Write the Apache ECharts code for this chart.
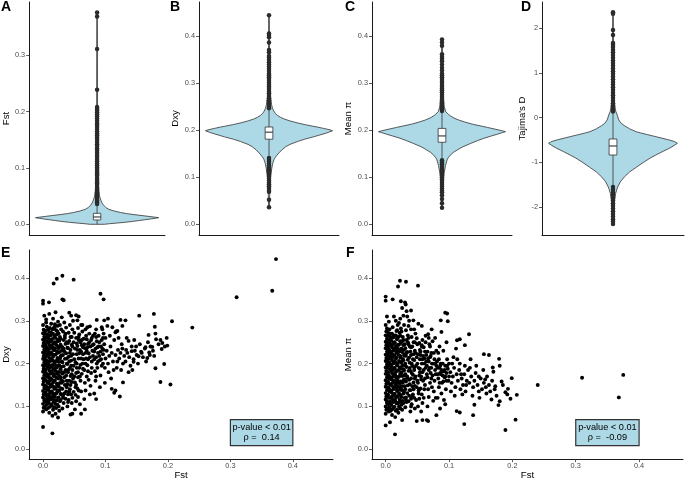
<!DOCTYPE html>
<html><head><meta charset="utf-8">
<script src="https://cdn.jsdelivr.net/npm/echarts@6/dist/echarts.min.js"></script>
<style>html,body{margin:0;padding:0;background:#fff}#c{width:685px;height:481px}</style>
</head><body><div id="c"></div>
<script>
// ---------- DATA ----------
const panelLetters = ['A','B','C','D','E','F'];
const violinTitles = ['Fst','Dxy','Mean π',"Tajima's D"];
const scatterXTitle = 'Fst';
const scatterYTitles = ['Dxy','Mean π'];
const ticksA = [0, 0.1, 0.2, 0.3];
const ticksBC = [0, 0.1, 0.2, 0.3, 0.4];
const ticksD = [-2, -1, 0, 1, 2];
const ticksScatter = [0, 0.1, 0.2, 0.3, 0.4];

// violin profiles: [value, relative half-width]
const violinA = [[0,0.12],[0.001,0.2],[0.002,0.3],[0.0035,0.45],[0.005,0.57],[0.0065,0.67],[0.008,0.77],[0.0095,0.87],[0.0107,0.94],[0.0117,1.0],[0.0128,0.93],[0.014,0.84],[0.0155,0.73],[0.0172,0.6],[0.019,0.48],[0.021,0.38],[0.0235,0.28],[0.0266,0.19],[0.03,0.14],[0.034,0.105],[0.038,0.08],[0.043,0.06],[0.05,0.04],[0.06,0.028],[0.08,0.016],[0.15,0.008],[0.376,0.005]];
const violinB = [[0.036,0.006],[0.07,0.012],[0.1,0.025],[0.12,0.045],[0.13,0.06],[0.138,0.08],[0.1425,0.1],[0.147,0.125],[0.152,0.158],[0.158,0.2],[0.165,0.263],[0.17,0.33],[0.176,0.447],[0.181,0.56],[0.186,0.7],[0.19,0.8],[0.194,0.9],[0.197,0.96],[0.199,1.0],[0.201,0.96],[0.204,0.86],[0.207,0.76],[0.209,0.68],[0.212,0.57],[0.216,0.44],[0.22,0.33],[0.224,0.24],[0.2277,0.18],[0.232,0.13],[0.236,0.1],[0.241,0.075],[0.247,0.055],[0.255,0.04],[0.27,0.025],[0.3,0.015],[0.35,0.009],[0.445,0.005]];
const violinC = [[0.035,0.006],[0.07,0.012],[0.1,0.025],[0.11,0.035],[0.125,0.055],[0.137,0.08],[0.142,0.1],[0.147,0.13],[0.153,0.18],[0.159,0.25],[0.165,0.33],[0.172,0.45],[0.178,0.56],[0.183,0.66],[0.188,0.78],[0.192,0.88],[0.195,0.95],[0.197,1.0],[0.199,0.95],[0.202,0.85],[0.206,0.72],[0.209,0.62],[0.213,0.48],[0.218,0.35],[0.222,0.26],[0.226,0.19],[0.23,0.14],[0.234,0.1],[0.2396,0.06],[0.25,0.035],[0.27,0.022],[0.3,0.013],[0.393,0.005]];
const violinD = [[-2.375,0.006],[-2.1,0.012],[-1.85,0.025],[-1.7,0.04],[-1.6,0.06],[-1.526,0.08],[-1.42,0.12],[-1.318,0.18],[-1.21,0.26],[-1.11,0.36],[-1.0,0.47],[-0.9,0.58],[-0.834,0.666],[-0.75,0.78],[-0.68,0.88],[-0.62,0.95],[-0.572,1.0],[-0.53,0.95],[-0.49,0.85],[-0.45,0.74],[-0.424,0.666],[-0.38,0.54],[-0.34,0.43],[-0.313,0.36],[-0.25,0.26],[-0.18,0.18],[-0.126,0.128],[-0.05,0.09],[0.06,0.066],[0.134,0.045],[0.2,0.035],[0.35,0.022],[0.8,0.012],[1.5,0.008],[2.355,0.005]];

// boxes: [q1, median, q3, lowerWhisker, upperWhisker]
const boxA = [0.0077, 0.013, 0.0195, 0, 0.037];
const boxB = [0.181, 0.196, 0.207, 0.142, 0.246];
const boxC = [0.1745, 0.188, 0.204, 0.137, 0.24];
const boxD = [-0.834, -0.632, -0.476, -1.54, 0.134];

// outliers
const outliersA = [0.036,0.039,0.042,0.045,0.048,0.051,0.054,0.057,0.06,0.063,0.066,0.07,0.073,0.076,0.079,0.082,0.086,0.089,0.092,0.095,0.098,0.101,0.105,0.108,0.112,0.116,0.12,0.123,0.127,0.131,0.135,0.139,0.142,0.146,0.15,0.154,0.158,0.161,0.165,0.169,0.173,0.177,0.18,0.184,0.188,0.192,0.195,0.199,0.202,0.205,0.208,0.239,0.311,0.369,0.376];
const outliersB = [0.247,0.25,0.254,0.257,0.261,0.264,0.268,0.271,0.275,0.279,0.282,0.286,0.29,0.293,0.297,0.301,0.305,0.309,0.313,0.317,0.321,0.326,0.331,0.336,0.34,0.345,0.35,0.355,0.358,0.366,0.371,0.387,0.398,0.403,0.406,0.445,
  0.141,0.137,0.133,0.129,0.125,0.121,0.117,0.113,0.109,0.105,0.101,0.097,0.093,0.089,0.085,0.081,0.077,0.073,0.069,0.052,0.036];
const outliersC = [0.241,0.245,0.249,0.253,0.257,0.261,0.265,0.269,0.273,0.277,0.281,0.285,0.289,0.293,0.297,0.301,0.305,0.309,0.313,0.317,0.321,0.327,0.333,0.34,0.347,0.352,0.356,0.362,0.38,0.387,0.393,
  0.136,0.132,0.128,0.124,0.12,0.116,0.112,0.108,0.104,0.1,0.096,0.092,0.088,0.084,0.08,0.076,0.072,0.068,0.062,0.054,0.045,0.035];
const outliersD = [0.14,0.2,0.26,0.32,0.38,0.44,0.5,0.56,0.62,0.68,0.74,0.8,0.86,0.92,0.98,1.04,1.1,1.16,1.22,1.28,1.34,1.4,1.46,1.52,1.58,1.63,1.67,1.85,1.96,2.32,2.355,
  -1.55,-1.61,-1.67,-1.73,-1.79,-1.85,-1.91,-1.97,-2.03,-2.09,-2.15,-2.21,-2.27,-2.32,-2.375];

// scatter E: [Fst, Dxy]
const fstDxy = [
[0,0.088],[0.001,0.097],[0,0.106],[0.002,0.113],[0,0.121],[0.001,0.128],[0,0.136],[0.002,0.143],[0,0.151],[0.001,0.158],[0,0.166],[0.002,0.173],[0,0.181],[0.001,0.188],[0,0.196],[0.002,0.203],[0,0.211],[0.001,0.218],[0,0.226],[0.002,0.233],[0,0.241],[0.001,0.248],[0,0.256],[0.002,0.263],[0,0.271],[0.001,0.279],[0,0.29],[0.002,0.312],
[0.005,0.093],[0.006,0.104],[0.004,0.111],[0.007,0.118],[0.005,0.125],[0.004,0.133],[0.006,0.14],[0.005,0.147],[0.007,0.155],[0.004,0.162],[0.006,0.17],[0.005,0.177],[0.004,0.185],[0.007,0.192],[0.005,0.2],[0.006,0.207],[0.004,0.215],[0.007,0.222],[0.005,0.23],[0.006,0.237],[0.004,0.245],[0.006,0.252],[0.005,0.26],[0.007,0.268],[0.004,0.276],[0.006,0.286],[0.005,0.296],
[0.01,0.085],[0.011,0.099],[0.009,0.108],[0.012,0.116],[0.01,0.123],[0.011,0.131],[0.009,0.138],[0.012,0.146],[0.01,0.153],[0.011,0.161],[0.009,0.168],[0.012,0.176],[0.01,0.183],[0.011,0.191],[0.009,0.198],[0.012,0.206],[0.01,0.213],[0.011,0.221],[0.009,0.228],[0.012,0.236],[0.01,0.243],[0.011,0.251],[0.009,0.258],[0.012,0.266],[0.01,0.274],[0.011,0.283],[0.013,0.293],[0.01,0.316],
[0.015,0.078],[0.016,0.092],[0.014,0.102],[0.017,0.11],[0.015,0.118],[0.016,0.126],[0.014,0.133],[0.018,0.141],[0.015,0.148],[0.016,0.156],[0.014,0.163],[0.017,0.171],[0.015,0.178],[0.016,0.186],[0.014,0.193],[0.018,0.201],[0.015,0.208],[0.016,0.216],[0.014,0.223],[0.017,0.231],[0.015,0.238],[0.016,0.246],[0.014,0.253],[0.018,0.261],[0.016,0.27],[0.017,0.282],[0.019,0.292],[0.016,0.305],
[0.02,0.083],[0.021,0.096],[0.02,0.106],[0.022,0.114],[0.019,0.122],[0.021,0.13],[0.023,0.138],[0.02,0.145],[0.022,0.153],[0.019,0.16],[0.021,0.168],[0.023,0.176],[0.02,0.183],[0.022,0.191],[0.019,0.198],[0.021,0.206],[0.023,0.213],[0.02,0.221],[0.022,0.229],[0.019,0.236],[0.021,0.244],[0.023,0.252],[0.02,0.26],[0.022,0.268],[0.021,0.278],[0.023,0.288],[0.02,0.32],[0.024,0.298],
[0.026,0.09],[0.025,0.1],[0.027,0.112],[0.025,0.121],[0.028,0.129],[0.026,0.137],[0.025,0.147],[0.027,0.155],[0.029,0.162],[0.026,0.171],[0.025,0.18],[0.028,0.187],[0.026,0.196],[0.025,0.204],[0.027,0.212],[0.029,0.219],[0.026,0.227],[0.025,0.236],[0.028,0.244],[0.026,0.253],[0.027,0.262],[0.025,0.27],[0.029,0.28],[0.027,0.29],[0.03,0.308],
[0.031,0.095],[0.033,0.108],[0.032,0.12],[0.034,0.13],[0.031,0.141],[0.035,0.15],[0.032,0.159],[0.034,0.168],[0.031,0.177],[0.036,0.185],[0.033,0.194],[0.031,0.203],[0.035,0.211],[0.032,0.22],[0.034,0.229],[0.031,0.238],[0.036,0.246],[0.033,0.255],[0.035,0.265],[0.032,0.275],[0.037,0.284],[0.034,0.296],
[0.039,0.1],[0.041,0.115],[0.04,0.128],[0.043,0.14],[0.039,0.152],[0.042,0.16],[0.044,0.171],[0.04,0.18],[0.043,0.19],[0.039,0.199],[0.045,0.207],[0.041,0.216],[0.043,0.225],[0.04,0.236],[0.046,0.244],[0.042,0.253],[0.044,0.262],[0.041,0.272],[0.047,0.28],[0.043,0.29],[0.048,0.3],[0.045,0.312],[0.047,0.12],[0.049,0.134],[0.048,0.165],[0.049,0.195],[0.048,0.222],[0.049,0.25],[0.047,0.185],[0.046,0.108],
[0.051,0.093],[0.053,0.112],[0.052,0.127],[0.055,0.142],[0.051,0.156],[0.056,0.168],[0.053,0.178],[0.058,0.19],[0.052,0.203],[0.057,0.212],[0.054,0.222],[0.059,0.232],[0.055,0.241],[0.06,0.25],[0.053,0.26],[0.058,0.268],[0.056,0.283],[0.061,0.29],[0.057,0.31],[0.062,0.176],[0.063,0.2],[0.061,0.135],[0.064,0.222],[0.062,0.243],[0.065,0.258],[0.06,0.16],[0.056,0.122],[0.064,0.188],[0.063,0.275],[0.059,0.105],
[0.066,0.117],[0.068,0.137],[0.067,0.155],[0.07,0.17],[0.066,0.185],[0.071,0.196],[0.069,0.212],[0.073,0.224],[0.067,0.236],[0.072,0.246],[0.07,0.257],[0.074,0.27],[0.068,0.28],[0.075,0.287],[0.076,0.148],[0.077,0.178],[0.078,0.205],[0.079,0.23],[0.077,0.255],[0.08,0.265],[0.075,0.128],[0.078,0.19],[0.073,0.162],[0.08,0.218],[0.079,0.243],
[0.082,0.13],[0.084,0.16],[0.083,0.182],[0.086,0.2],[0.085,0.215],[0.088,0.225],[0.087,0.238],[0.09,0.25],[0.089,0.265],[0.092,0.172],[0.094,0.195],[0.093,0.21],[0.096,0.222],[0.095,0.235],[0.098,0.245],[0.097,0.27],[0.099,0.19],[0.091,0.145],[0.085,0.28],[0.088,0.205],[0.092,0.228],[0.096,0.2],[0.1,0.212],[0.1,0.26],[0.094,0.285],[0.081,0.245],[0.083,0.27],[0.099,0.155],
[0.102,0.23],[0.104,0.2],[0.106,0.218],[0.108,0.24],[0.11,0.225],[0.112,0.205],[0.114,0.255],[0.116,0.22],[0.118,0.19],[0.12,0.232],[0.122,0.212],[0.124,0.225],[0.126,0.245],[0.128,0.2],[0.13,0.218],[0.105,0.18],[0.109,0.165],[0.113,0.185],[0.117,0.275],[0.121,0.26],[0.125,0.185],[0.119,0.205],[0.107,0.265],[0.103,0.288],[0.111,0.285],[0.127,0.235],
[0.132,0.205],[0.135,0.225],[0.138,0.215],[0.14,0.195],[0.142,0.24],[0.145,0.21],[0.147,0.23],[0.15,0.22],[0.152,0.2],[0.155,0.245],[0.158,0.225],[0.16,0.215],[0.163,0.235],[0.165,0.205],[0.168,0.25],[0.17,0.226],[0.172,0.24],[0.176,0.23],[0.185,0.245],[0.188,0.255],[0.195,0.24],[0.137,0.18],[0.143,0.185],[0.134,0.26],[0.146,0.255],
[0.003,0.1],[0.002,0.117],[0.003,0.132],[0.003,0.149],[0.002,0.164],[0.003,0.18],[0.003,0.195],[0.002,0.21],[0.003,0.224],[0.003,0.24],[0.002,0.255],[0.003,0.27],
[0.008,0.096],[0.008,0.112],[0.009,0.128],[0.008,0.143],[0.007,0.158],[0.008,0.174],[0.009,0.189],[0.008,0.204],[0.007,0.219],[0.008,0.234],[0.009,0.249],[0.008,0.264],[0.008,0.279],
[0.013,0.105],[0.013,0.12],[0.014,0.135],[0.013,0.15],[0.012,0.166],[0.013,0.181],[0.014,0.196],[0.013,0.211],[0.012,0.226],[0.013,0.241],[0.014,0.257],[0.013,0.272],
[0.018,0.098],[0.018,0.114],[0.019,0.129],[0.018,0.145],[0.017,0.16],[0.018,0.175],[0.019,0.19],[0.018,0.205],[0.017,0.22],[0.018,0.235],[0.019,0.25],[0.018,0.265],[0.018,0.285],
[0.023,0.104],[0.024,0.12],[0.023,0.134],[0.024,0.15],[0.024,0.165],[0.023,0.18],[0.024,0.195],[0.024,0.21],[0.023,0.225],[0.024,0.24],[0.024,0.256],[0.023,0.275],
[0.028,0.115],[0.029,0.142],[0.028,0.168],[0.029,0.192],[0.028,0.216],[0.029,0.24],[0.028,0.258],[0.03,0.128],[0.03,0.155],[0.03,0.18],[0.03,0.205],[0.03,0.23],
[0.036,0.118],[0.038,0.145],[0.037,0.172],[0.038,0.2],[0.037,0.224],[0.038,0.25],[0.036,0.27],[0.038,0.16],[0.037,0.135],[0.038,0.212],[0.039,0.237],
[0.044,0.15],[0.046,0.175],[0.045,0.195],[0.044,0.232],[0.046,0.262],[0.052,0.145],[0.054,0.19],[0.055,0.232],[0.057,0.255],[0.059,0.17],[0.061,0.212],[0.064,0.238],
[0.068,0.2],[0.07,0.23],[0.072,0.182],[0.075,0.215],[0.082,0.21],[0.084,0.235],[0.087,0.19],[0.09,0.218],[0.093,0.24],[0.096,0.26],[0.069,0.265],[0.076,0.24],[0.085,0.17],
[0.032,0.125],[0.034,0.18],[0.033,0.235],[0.035,0.26],[0.04,0.11],[0.042,0.134],[0.041,0.186],[0.042,0.205],[0.04,0.248],[0.045,0.128],[0.046,0.157],[0.045,0.218],[0.047,0.24],[0.05,0.17],[0.05,0.21],[0.051,0.235],[0.05,0.272],[0.053,0.15],[0.054,0.2],[0.054,0.247],[0.057,0.137],[0.056,0.18],[0.058,0.224],[0.057,0.262],[0.06,0.197],[0.061,0.228],[0.062,0.255],[0.065,0.21],[0.066,0.245],[0.068,0.225],[0.071,0.238],[0.072,0.21],[0.074,0.25],[0.078,0.26],[0.082,0.228],[0.086,0.252],[0.089,0.24],[0.091,0.208],[0.094,0.255],[0.097,0.232],
[0.373,0.444],[0.367,0.37],[0.31,0.355],[0.239,0.284],[0.2065,0.299],[0.1775,0.316],[0.154,0.312],[0.194,0.199],[0.188,0.157],[0.204,0.151],[0.18,0.189],[0.191,0.248],[0.198,0.26],[0.199,0.242],[0.19,0.234],[0.181,0.257],[0.179,0.286],[0.18,0.27],[0.169,0.267],[0.164,0.238],[0.175,0.239],[0.178,0.218],[0.171,0.22],[0.167,0.213],[0.157,0.228],[0.153,0.217],[0.149,0.24],[0.145,0.204],[0.142,0.229],[0.137,0.253],[0.133,0.232],[0.128,0.156],[0.123,0.123],[0.116,0.137],[0.114,0.132],[0.11,0.141],[0.132,0.301],[0.124,0.302],[0.127,0.288],[0.119,0.276],[0.116,0.273],[0.104,0.305],[0.098,0.301],[0.092,0.363],[0.097,0.35],[0.086,0.302],[0.095,0.28],[0.085,0.262],[0.071,0.285],[0.063,0.29],[0.055,0.301],[0.049,0.396],[0.031,0.405],[0.022,0.398],[0.017,0.387],[0.031,0.35],[0.033,0.348],[0,0.347],[0,0.34],[0.0095,0.343],[0.015,0.28],[0.042,0.319],[0.053,0.313],[0.005,0.303],[0,0.052],[0.015,0.037],[0.024,0.074],[0.044,0.081],[0.047,0.083],[0.061,0.083],[0.067,0.093],[0.085,0.117]
];

// scatter F: [Fst, Mean pi]
const fstPi = [
[0,0.083],[0.001,0.092],[0,0.1],[0.002,0.108],[0,0.116],[0.001,0.123],[0,0.131],[0.002,0.138],[0,0.146],[0.001,0.153],[0,0.161],[0.002,0.168],[0,0.176],[0.001,0.183],[0,0.191],[0.002,0.198],[0,0.206],[0.001,0.213],[0,0.221],[0.002,0.228],[0,0.236],[0.001,0.243],[0,0.251],[0.002,0.258],[0,0.266],[0.001,0.275],[0,0.29],[0.002,0.31],
[0.005,0.088],[0.006,0.097],[0.004,0.105],[0.007,0.112],[0.005,0.12],[0.004,0.127],[0.006,0.135],[0.005,0.142],[0.007,0.15],[0.004,0.157],[0.006,0.165],[0.005,0.172],[0.004,0.18],[0.007,0.187],[0.005,0.195],[0.006,0.202],[0.004,0.21],[0.007,0.217],[0.005,0.225],[0.006,0.232],[0.004,0.24],[0.006,0.247],[0.005,0.255],[0.007,0.263],[0.004,0.272],[0.006,0.28],[0.005,0.298],
[0.01,0.08],[0.011,0.094],[0.009,0.103],[0.012,0.11],[0.01,0.118],[0.011,0.125],[0.009,0.133],[0.012,0.14],[0.01,0.148],[0.011,0.155],[0.009,0.163],[0.012,0.17],[0.01,0.178],[0.011,0.185],[0.009,0.193],[0.012,0.2],[0.01,0.208],[0.011,0.215],[0.009,0.223],[0.012,0.23],[0.01,0.238],[0.011,0.245],[0.009,0.253],[0.012,0.261],[0.01,0.27],[0.011,0.285],[0.013,0.31],
[0.015,0.075],[0.016,0.09],[0.014,0.099],[0.017,0.107],[0.015,0.114],[0.016,0.121],[0.014,0.129],[0.018,0.136],[0.015,0.144],[0.016,0.151],[0.014,0.159],[0.017,0.166],[0.015,0.174],[0.016,0.181],[0.014,0.189],[0.018,0.196],[0.015,0.204],[0.016,0.211],[0.014,0.219],[0.017,0.226],[0.015,0.234],[0.016,0.241],[0.014,0.249],[0.018,0.257],[0.016,0.266],[0.017,0.276],[0.019,0.29],[0.016,0.3],
[0.02,0.085],[0.021,0.1],[0.02,0.108],[0.022,0.116],[0.019,0.124],[0.021,0.131],[0.023,0.139],[0.02,0.146],[0.022,0.154],[0.019,0.161],[0.021,0.169],[0.023,0.176],[0.02,0.184],[0.022,0.191],[0.019,0.199],[0.021,0.206],[0.023,0.214],[0.02,0.221],[0.022,0.229],[0.019,0.236],[0.021,0.244],[0.023,0.252],[0.02,0.262],[0.022,0.272],[0.024,0.282],[0.021,0.295],[0.023,0.305],
[0.026,0.092],[0.025,0.104],[0.027,0.113],[0.025,0.122],[0.028,0.13],[0.026,0.138],[0.025,0.147],[0.027,0.155],[0.029,0.163],[0.026,0.171],[0.025,0.179],[0.028,0.187],[0.026,0.195],[0.025,0.203],[0.027,0.211],[0.029,0.219],[0.026,0.227],[0.025,0.235],[0.028,0.243],[0.026,0.252],[0.027,0.262],[0.025,0.275],[0.029,0.29],[0.028,0.312],
[0.031,0.098],[0.033,0.11],[0.032,0.121],[0.034,0.131],[0.031,0.14],[0.035,0.149],[0.032,0.158],[0.034,0.166],[0.031,0.175],[0.036,0.183],[0.033,0.192],[0.031,0.2],[0.035,0.209],[0.032,0.218],[0.034,0.227],[0.031,0.236],[0.036,0.245],[0.033,0.255],[0.035,0.266],[0.032,0.278],[0.037,0.3],[0.034,0.31],
[0.039,0.088],[0.041,0.105],[0.04,0.118],[0.043,0.128],[0.039,0.138],[0.042,0.147],[0.044,0.156],[0.04,0.165],[0.043,0.174],[0.039,0.183],[0.045,0.191],[0.041,0.2],[0.043,0.21],[0.04,0.22],[0.046,0.23],[0.042,0.24],[0.044,0.25],[0.041,0.262],[0.047,0.27],[0.048,0.115],[0.049,0.145],[0.047,0.17],[0.048,0.195],[0.049,0.215],[0.046,0.095],[0.045,0.28],
[0.051,0.1],[0.053,0.118],[0.052,0.13],[0.055,0.142],[0.051,0.155],[0.056,0.163],[0.053,0.172],[0.058,0.18],[0.052,0.19],[0.057,0.2],[0.054,0.21],[0.059,0.218],[0.055,0.228],[0.06,0.238],[0.053,0.248],[0.058,0.255],[0.061,0.14],[0.062,0.165],[0.063,0.19],[0.064,0.205],[0.06,0.12],[0.065,0.175],[0.062,0.228],[0.056,0.088],[0.063,0.25],[0.058,0.108],
[0.066,0.1],[0.068,0.122],[0.067,0.14],[0.07,0.155],[0.066,0.168],[0.071,0.178],[0.069,0.19],[0.073,0.2],[0.067,0.212],[0.072,0.225],[0.07,0.24],[0.074,0.252],[0.076,0.135],[0.077,0.16],[0.078,0.185],[0.079,0.175],[0.077,0.21],[0.08,0.195],[0.075,0.113],[0.073,0.145],[0.08,0.23],[0.079,0.12],[0.068,0.26],
[0.082,0.12],[0.084,0.145],[0.083,0.165],[0.086,0.178],[0.085,0.19],[0.088,0.185],[0.087,0.2],[0.09,0.172],[0.089,0.155],[0.092,0.182],[0.094,0.195],[0.093,0.168],[0.096,0.178],[0.095,0.14],[0.098,0.188],[0.097,0.21],[0.099,0.16],[0.091,0.23],[0.085,0.24],[0.088,0.13],[0.092,0.115],[0.096,0.25],[0.1,0.17],[0.1,0.2],[0.094,0.105],[0.081,0.205],[0.083,0.225],
[0.102,0.18],[0.104,0.155],[0.106,0.17],[0.108,0.19],[0.11,0.145],[0.112,0.175],[0.114,0.16],[0.116,0.185],[0.118,0.14],[0.12,0.165],[0.122,0.15],[0.124,0.175],[0.126,0.135],[0.128,0.16],[0.13,0.185],[0.105,0.2],[0.109,0.125],[0.113,0.21],[0.117,0.2],[0.121,0.128],[0.125,0.195],[0.119,0.175],[0.107,0.215],[0.103,0.135],[0.111,0.235],[0.127,0.15],
[0.132,0.155],[0.135,0.17],[0.138,0.145],[0.14,0.16],[0.142,0.178],[0.145,0.15],[0.147,0.135],[0.15,0.165],[0.152,0.14],[0.155,0.155],[0.158,0.145],[0.16,0.17],[0.163,0.15],[0.165,0.135],[0.168,0.16],[0.133,0.19],[0.137,0.125],[0.143,0.195],[0.134,0.21],[0.148,0.12],[0.154,0.185],[0.172,0.14],[0.175,0.125],[0.185,0.15],[0.192,0.128],
[0.003,0.095],[0.002,0.112],[0.003,0.127],[0.003,0.144],[0.002,0.159],[0.003,0.175],[0.003,0.19],[0.002,0.205],[0.003,0.219],[0.003,0.235],[0.002,0.25],[0.003,0.265],[0.002,0.282],
[0.008,0.09],[0.008,0.106],[0.009,0.122],[0.008,0.137],[0.007,0.152],[0.008,0.168],[0.009,0.183],[0.008,0.198],[0.007,0.213],[0.008,0.228],[0.009,0.243],[0.008,0.258],[0.008,0.27],
[0.013,0.098],[0.013,0.114],[0.014,0.129],[0.013,0.144],[0.012,0.16],[0.013,0.175],[0.014,0.19],[0.013,0.205],[0.012,0.22],[0.013,0.235],[0.014,0.25],[0.013,0.266],
[0.018,0.092],[0.018,0.108],[0.019,0.123],[0.018,0.139],[0.017,0.154],[0.018,0.169],[0.019,0.184],[0.018,0.199],[0.017,0.214],[0.018,0.229],[0.019,0.244],[0.018,0.26],[0.018,0.278],
[0.023,0.095],[0.024,0.112],[0.023,0.127],[0.024,0.143],[0.024,0.158],[0.023,0.173],[0.024,0.188],[0.024,0.203],[0.023,0.218],[0.024,0.233],[0.024,0.248],[0.023,0.265],
[0.028,0.108],[0.029,0.134],[0.028,0.16],[0.029,0.184],[0.028,0.208],[0.029,0.232],[0.028,0.255],[0.03,0.12],[0.03,0.147],[0.03,0.172],[0.03,0.196],[0.03,0.222],[0.03,0.245],
[0.036,0.112],[0.038,0.138],[0.037,0.162],[0.038,0.19],[0.037,0.214],[0.038,0.24],[0.036,0.26],[0.038,0.152],[0.037,0.125],[0.038,0.202],[0.039,0.228],
[0.044,0.14],[0.046,0.165],[0.045,0.185],[0.044,0.222],[0.046,0.25],[0.052,0.137],[0.054,0.18],[0.055,0.22],[0.057,0.24],[0.059,0.16],[0.061,0.2],[0.064,0.22],
[0.068,0.185],[0.07,0.215],[0.072,0.165],[0.075,0.2],[0.082,0.19],[0.084,0.21],[0.087,0.175],[0.09,0.2],[0.093,0.185],[0.096,0.16],[0.069,0.245],[0.076,0.225],[0.085,0.155],
[0.032,0.115],[0.034,0.17],[0.033,0.225],[0.035,0.25],[0.04,0.1],[0.042,0.125],[0.041,0.178],[0.042,0.195],[0.04,0.238],[0.045,0.12],[0.046,0.148],[0.045,0.208],[0.047,0.225],[0.05,0.16],[0.05,0.2],[0.051,0.222],[0.05,0.245],[0.053,0.14],[0.054,0.188],[0.054,0.232],[0.057,0.128],[0.056,0.17],[0.058,0.21],[0.057,0.243],[0.06,0.185],[0.061,0.212],[0.062,0.15],[0.065,0.195],[0.066,0.228],[0.068,0.205],[0.071,0.218],[0.072,0.19],[0.074,0.172],[0.078,0.2],[0.082,0.175],[0.086,0.195],[0.089,0.182],[0.091,0.158],[0.094,0.17],[0.097,0.195],
[0.375,0.1736],[0.368,0.121],[0.31,0.167],[0.24,0.15],[0.205,0.069],[0.189,0.045],[0.207,0.127],[0.199,0.166],[0.197,0.118],[0.193,0.141],[0.189,0.133],[0.183,0.158],[0.18,0.112],[0.179,0.211],[0.18,0.195],[0.173,0.147],[0.169,0.191],[0.17,0.181],[0.167,0.116],[0.178,0.103],[0.163,0.22],[0.155,0.222],[0.159,0.13],[0.157,0.163],[0.147,0.17],[0.14,0.104],[0.138,0.0795],[0.124,0.0586],[0.1315,0.2685],[0.125,0.243],[0.117,0.257],[0.1126,0.2546],[0.112,0.089],[0.117,0.0856],[0.098,0.299],[0.097,0.317],[0.094,0.319],[0.087,0.301],[0.08,0.0795],[0.0858,0.095],[0.067,0.0656],[0.065,0.068],[0.058,0.068],[0.049,0.0656],[0.026,0.068],[0.0147,0.0347],[0.0068,0.063],[0,0.0556],[0,0.3565],[0,0.347],[0.011,0.35],[0.0195,0.38],[0.0226,0.3935],[0.032,0.391],[0.051,0.382],[0.024,0.3457],[0.0305,0.343],[0.0316,0.338],[0.026,0.33],[0.033,0.3225],[0.04,0.324],[0.0437,0.301],[0.036,0.288],[0.04,0.28],[0.0516,0.293],[0.057,0.288],[0.0726,0.28],[0.049,0.259],[0.063,0.265],[0.067,0.2685],[0.078,0.26],[0.088,0.274]
];

// annotation boxes: [x0, y0, x1, y1] and text lines
const annotRectE = [0.3, 0.0086, 0.4, 0.069];
const annotRectF = [0.3, 0.0086, 0.4, 0.069];
const statsE = ['p-value < 0.01', 'ρ =  0.14'];
const statsF = ['p-value < 0.01', 'ρ =  -0.09'];

// ---------- STYLE / LAYOUT ----------
const FONT = 'Liberation Sans';
const VIOLIN_W = 0.907;
const BOX_W = 0.055;
const grids = [
  {left:25, top:2, width:140, height:233},
  {left:199, top:2, width:140, height:233},
  {left:372, top:2, width:140, height:233},
  {left:542, top:2, width:142, height:233},
  {left:26, top:250, width:307, height:211},
  {left:372, top:250, width:311, height:211}
];
const yRanges = [[-0.019,0.3946],[-0.0228,0.473],[-0.0228,0.473],[-2.621,2.585],[-0.0231,0.4653],[-0.0231,0.4653]];
const xRanges = [[-1,1],[-1,1],[-1,1],[-1,1],[-0.0222,0.4643],[-0.0216,0.4693]];
const yTicks = [ticksA, ticksBC, ticksBC, ticksD, ticksScatter, ticksScatter];
const yNames = violinTitles.concat(scatterYTitles);
const yGaps = [15, 15.5, 15, 12, 16, 15];

const axisLine = {show:true, onZero:false, lineStyle:{color:'#1a1a1a', width:1}};
const tickStyle = {color:'#333', width:0.8};
const labelBase = {color:'#4d4d4d', fontSize:7.4, fontFamily:FONT};
const fmt = (dec) => (v) => dec ? v.toFixed(1) : String(v);

const xAxes = xRanges.map((r, i) => {
  const scatter = i >= 4;
  return {
    type:'value', gridIndex:i, min:r[0], max:r[1],
    axisLine: axisLine,
    axisTick: scatter ? {show:true, length:3, lineStyle:tickStyle, customValues:ticksScatter} : {show:false},
    axisLabel: scatter ? Object.assign({customValues:ticksScatter, formatter:fmt(true), margin:3}, labelBase) : {show:false},
    splitLine:{show:false},
    name: scatter ? scatterXTitle : '',
    nameLocation:'middle', nameGap:10.5,
    nameTextStyle:{fontSize:9.6, color:'#000', fontFamily:FONT}
  };
});
const yAxes = yRanges.map((r, i) => ({
  type:'value', gridIndex:i, min:r[0], max:r[1],
  axisLine: axisLine,
  axisTick:{show:true, length:3, lineStyle:tickStyle, customValues:yTicks[i]},
  axisLabel: Object.assign({customValues:yTicks[i], formatter:fmt(i !== 3), margin:4}, labelBase),
  splitLine:{show:false},
  name: yNames[i], nameLocation:'middle', nameRotate:90, nameGap:yGaps[i],
  nameTextStyle:{fontSize:9.6, color:'#000', fontFamily:FONT}
}));

function violinRender(profile){
  return function(params, api){
    const left = [], right = [];
    profile.forEach(function(p){
      left.push(api.coord([-p[1]*VIOLIN_W, p[0]]));
      right.push(api.coord([p[1]*VIOLIN_W, p[0]]));
    });
    return {type:'polygon', shape:{points:left.concat(right.reverse())},
      style:{fill:'#ADD8E6', stroke:'#333', lineWidth:0.8}};
  };
}
function boxRender(params, api){
  const q1 = api.value(0), med = api.value(1), q3 = api.value(2), lo = api.value(3), hi = api.value(4);
  const pLo = api.coord([0, lo]), pHi = api.coord([0, hi]);
  const a = api.coord([-BOX_W, q3]), b = api.coord([BOX_W, q1]);
  const m0 = api.coord([-BOX_W, med]), m1 = api.coord([BOX_W, med]);
  return {type:'group', children:[
    {type:'line', shape:{x1:pLo[0], y1:pLo[1], x2:pHi[0], y2:pHi[1]}, style:{stroke:'#333', lineWidth:0.8}},
    {type:'rect', shape:{x:a[0], y:a[1], width:b[0]-a[0], height:b[1]-a[1]}, style:{fill:'#fff', stroke:'#333', lineWidth:0.8}},
    {type:'line', shape:{x1:m0[0], y1:m0[1], x2:m1[0], y2:m1[1]}, style:{stroke:'#333', lineWidth:1.1}}
  ]};
}
function annotRender(lines){
  return function(params, api){
    const p0 = api.coord([api.value(0), api.value(3)]);
    const p1 = api.coord([api.value(2), api.value(1)]);
    return {type:'group', children:[
      {type:'rect', shape:{x:p0[0], y:p0[1], width:p1[0]-p0[0], height:p1[1]-p0[1]},
        style:{fill:'#ADD8E6', stroke:'#333', lineWidth:1.2}},
      {type:'text', style:{text:lines.join('\n'), x:(p0[0]+p1[0])/2, y:(p0[1]+p1[1])/2,
        align:'center', verticalAlign:'middle', fontSize:9.2, fontFamily:FONT, fill:'#000', lineHeight:10}}
    ]};
  };
}

const violins = [violinA, violinB, violinC, violinD];
const boxes = [boxA, boxB, boxC, boxD];
const outliers = [outliersA, outliersB, outliersC, outliersD];
const series = [];
violins.forEach(function(prof, i){
  series.push({type:'custom', xAxisIndex:i, yAxisIndex:i, silent:true, z:1,
    data:[[0, prof[0][0]]], renderItem: violinRender(prof)});
  series.push({type:'scatter', xAxisIndex:i, yAxisIndex:i, silent:true, z:2,
    symbolSize:4.5, itemStyle:{color:'#2b2b2b', opacity:1},
    data: outliers[i].map(function(v){ return [0, v]; })});
  series.push({type:'custom', xAxisIndex:i, yAxisIndex:i, silent:true, z:3,
    data:[boxes[i]], encode:{y:[0,1,2,3,4]}, renderItem: boxRender});
});
[[fstDxy, annotRectE, statsE, 4], [fstPi, annotRectF, statsF, 5]].forEach(function(s){
  series.push({type:'scatter', xAxisIndex:s[3], yAxisIndex:s[3], silent:true, z:2,
    symbolSize:3.9, itemStyle:{color:'#000', opacity:1}, data:s[0]});
  series.push({type:'custom', xAxisIndex:s[3], yAxisIndex:s[3], silent:true, z:4,
    data:[s[1]], renderItem: annotRender(s[2])});
});

const letterPos = [[1,0],[170,0],[345,0],[521,0],[1,246],[346,246]];
const graphic = panelLetters.map(function(t, i){
  return {type:'text', left:letterPos[i][0], top:letterPos[i][1],
    style:{text:t, font:'bold 14px ' + FONT, fill:'#000'}};
});

const chart = echarts.init(document.getElementById('c'), null, {renderer:'canvas'});
chart.setOption({
  animation:false,
  backgroundColor:'#fff',
  grid: grids,
  xAxis: xAxes,
  yAxis: yAxes,
  series: series,
  graphic: graphic
});
</script></body></html>
